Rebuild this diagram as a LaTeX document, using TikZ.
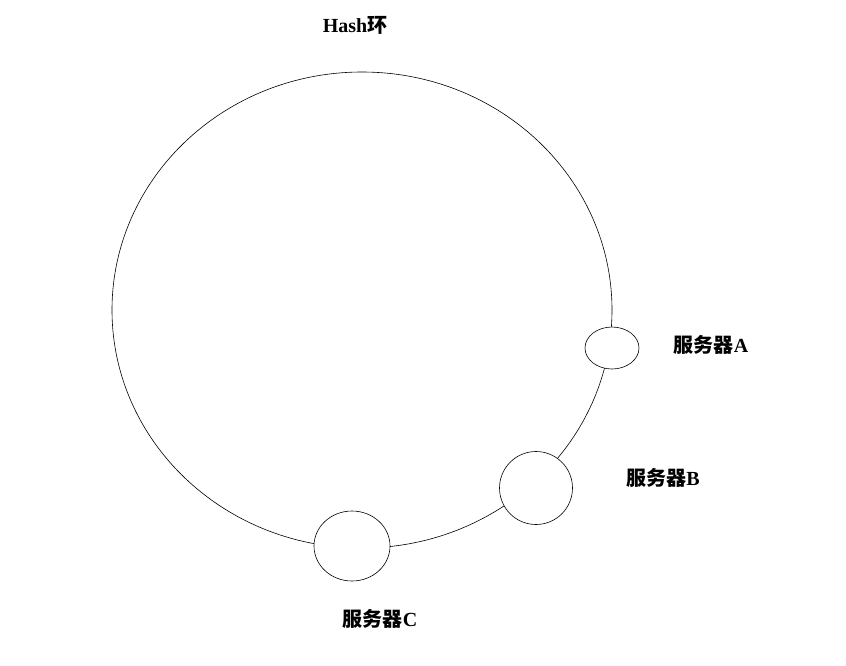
\documentclass[tikz,border=0pt]{standalone}
\usepackage{fontspec}
\usetikzlibrary{shapes.geometric}
\setmainfont{Liberation Serif}
\newfontfamily\cjk{Noto Sans CJK SC}
\begin{document}
\begin{tikzpicture}[x=1pt,y=-1pt,
  srv/.style={draw,fill=white,line width=0.6pt},
  lbl/.style={font=\bfseries\fontsize{20}{24}\selectfont}]
\useasboundingbox (0,0) rectangle (846,665);
\draw[line width=0.6pt] (362,310) ellipse [x radius=250, y radius=238];
\node[srv,ellipse,minimum width=54pt,minimum height=42pt,inner sep=0pt] (a) at (612,348) {};
\node[srv,circle,minimum size=73pt,inner sep=0pt] (b) at (536,488) {};
\node[srv,ellipse,minimum width=76pt,minimum height=70pt,inner sep=0pt] (c) at (352,546) {};
\node[lbl] (t) at (355,25) {Hash{\cjk\bfseries 环}};
\node[lbl] (la) at (711,345) {{\cjk\bfseries 服务器}A};
\node[lbl] (lb) at (663,478) {{\cjk\bfseries 服务器}B};
\node[lbl] (lc) at (380,619) {{\cjk\bfseries 服务器}C};
\end{tikzpicture}
\end{document}
